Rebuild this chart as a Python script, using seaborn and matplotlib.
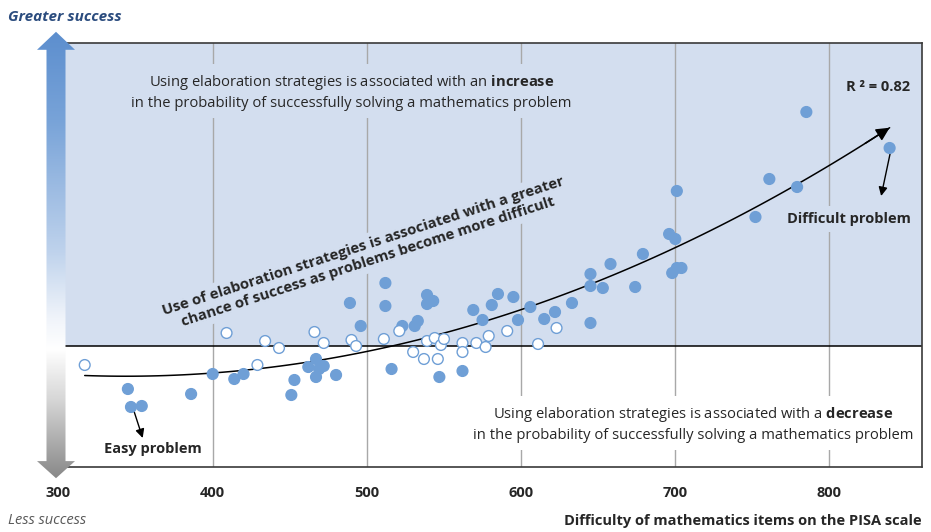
import numpy as np
import pandas as pd
import matplotlib.pyplot as plt
import seaborn as sns
from matplotlib.patches import Polygon

# Items: difficulty on the PISA scale, effect of elaboration strategies
sig_x = [345, 347, 354, 386, 400, 414, 420, 451, 453, 462, 467, 467, 469, 472, 480,
         489, 496, 512, 512, 516, 523, 531, 533, 539, 539, 543, 547, 562, 569, 575,
         581, 585, 595, 598, 606, 615, 622, 633, 645, 645, 645, 653, 658, 674, 679,
         696, 698, 700, 701, 704, 701, 752, 761, 779, 785, 839]
sig_y = [-0.43, -0.61, -0.60, -0.48, -0.28, -0.33, -0.28, -0.49, -0.34, -0.21, -0.13, -0.31, -0.23, -0.20, -0.29,
         0.43, 0.20, 0.63, 0.40, -0.23, 0.20, 0.20, 0.25, 0.51, 0.42, 0.45, -0.31, -0.25, 0.36, 0.26,
         0.41, 0.52, 0.49, 0.26, 0.39, 0.27, 0.34, 0.43, 0.72, 0.60, 0.23, 0.58, 0.82, 0.59, 0.92,
         1.12, 0.73, 1.07, 0.78, 0.78, 1.55, 1.29, 1.67, 1.59, 2.34, 1.98]
ns_x = [317, 409, 429, 434, 443, 466, 472, 490, 493, 511, 521, 530, 537, 539, 544,
        546, 548, 550, 562, 562, 571, 577, 579, 591, 611, 623]
ns_y = [-0.19, 0.13, -0.19, 0.05, -0.02, 0.14, 0.03, 0.06, 0.00, 0.07, 0.15, -0.06, -0.13, 0.05, 0.08,
        -0.13, 0.01, 0.07, 0.03, -0.06, 0.03, -0.01, 0.10, 0.15, 0.02, 0.18]

ticks = [300, 400, 500, 600, 700, 800]
tick_labels = ["300", "400", "500", "600", "700", "800"]

df = pd.DataFrame({
    "difficulty": sig_x + ns_x,
    "effect": sig_y + ns_y,
    "group": ["sig"] * len(sig_x) + ["ns"] * len(ns_x),
})

BLUE = "#6F9FD6"
BG = "#D3DEEF"

sns.set_style("white")
plt.rcParams['font.family'] = ['Open Sans', 'DejaVu Sans']
plt.rcParams['mathtext.fontset'] = 'custom'
plt.rcParams['mathtext.rm'] = 'Open Sans'
plt.rcParams['mathtext.bf'] = 'Open Sans:bold'

W, H = 931, 532
fig = plt.figure(figsize=(9.31, 5.32), dpi=100)
ax = fig.add_axes([58.5 / W, 1 - 467 / H, (922 - 58.5) / W, (467 - 43) / H])
ax.set_xlim(300, 860)
ax.set_ylim(-1.21, 3.03)

# background halves, grid and zero line
ax.axhspan(0, 3.03, color=BG, lw=0, zorder=0)
for t in ticks[1:]:
    ax.axvline(t, color="#A8A8A8", lw=1, zorder=1)
ax.axhline(0, color="black", lw=1.1, zorder=2)

# quadratic trend + points
sns.regplot(data=df, x="difficulty", y="effect", order=2, ci=None, scatter=False,
            line_kws=dict(color="black", lw=1.1, zorder=3), ax=ax)
sns.scatterplot(data=df, x="difficulty", y="effect", hue="group",
                palette={"sig": BLUE, "ns": "white"}, edgecolor=BLUE, linewidth=1,
                s=60, legend=False, ax=ax, zorder=4)

# arrow head at end of the trend curve
xs, ys = ax.lines[-1].get_data()
ax.annotate("", xy=(xs[-1], ys[-1]), xytext=(xs[-4], ys[-4]),
            arrowprops=dict(arrowstyle="-|>", color="black", lw=1.1,
                            mutation_scale=20, shrinkA=0, shrinkB=0), zorder=5)

# texts
ax.text(490, 2.54,
        "Using elaboration strategies is associated with an $\\bf{increase}$\n"
        "in the probability of successfully solving a mathematics problem",
        ha="center", va="center", fontsize=10.6, linespacing=1.35, zorder=2.5,
        bbox=dict(boxstyle="square,pad=0.5", fc=BG, ec="none"))
ax.text(711.6, -0.78,
        "Using elaboration strategies is associated with a $\\bf{decrease}$\n"
        "in the probability of successfully solving a mathematics problem",
        ha="center", va="center", fontsize=10.6, linespacing=1.35, zorder=2.5,
        bbox=dict(boxstyle="square,pad=0.5", fc="white", ec="none"))
ax.text(499, 0.92,
        "Use of elaboration strategies is associated with a greater\n"
        "chance of success as problems become more difficult",
        ha="center", va="center", rotation=18, rotation_mode="anchor",
        fontsize=10.7, fontweight="bold", linespacing=1.2, zorder=2.5,
        bbox=dict(boxstyle="square,pad=0.3", fc=BG, ec="none"))
ax.text(852.4, 2.59, "R ² = 0.82", ha="right", va="center",
        fontsize=10.5, fontweight="bold")

ax.text(812.5, 1.27, "Difficult problem", ha="center", va="center", fontsize=10.5,
        fontweight="bold", zorder=2.5, bbox=dict(boxstyle="square,pad=0.4", fc=BG, ec="none"))
ax.annotate("", xy=(833.5, 1.50), xytext=(839.4, 1.93),
            arrowprops=dict(arrowstyle="-|>", color="black", lw=1,
                            mutation_scale=13, shrinkA=0, shrinkB=0))
ax.text(361.3, -1.03, "Easy problem", ha="center", va="center", fontsize=10.5,
        fontweight="bold", zorder=2.5)
ax.annotate("", xy=(354.6, -0.92), xytext=(348.5, -0.63),
            arrowprops=dict(arrowstyle="-|>", color="black", lw=1,
                            mutation_scale=13, shrinkA=0, shrinkB=0))

# axes styling
for side in ["top", "right", "bottom"]:
    ax.spines[side].set_color("#3A3A3A")
    ax.spines[side].set_linewidth(1.2)
ax.spines["left"].set_visible(False)
ax.set_xticks(ticks)
ax.set_xticklabels(tick_labels, fontweight="bold", fontsize=10.5)
ax.set_yticks([])
ax.tick_params(axis="x", length=0, pad=14)
ax.set_ylabel("")
ax.set_xlabel("Difficulty of mathematics items on the PISA scale", loc="right",
              fontweight="bold", fontsize=10.5, labelpad=10)

# gradient double arrow on the left
aax = fig.add_axes([36 / W, 1 - 480 / H, 40 / W, 450 / H])
aax.set_xlim(0, 1)
aax.set_ylim(0, 1)
aax.axis("off")
stops = [0.0, 0.2, 0.49, 0.64, 0.71, 0.82, 1.0]
cols = np.array([(92, 142, 206), (120, 163, 216), (190, 210, 236), (240, 244, 250),
                 (255, 255, 255), (215, 215, 215), (135, 135, 135)]) / 255
tt = np.linspace(0, 1, 400)
grad = np.stack([np.interp(tt, stops, cols[:, i]) for i in range(3)], axis=1)[:, None, :]
im = aax.imshow(grad, extent=[0, 1, 0, 1], aspect="auto", origin="upper")
shape = Polygon([(0.5, 0.996), (0.975, 0.956), (0.7375, 0.956), (0.7375, 0.042),
                 (0.975, 0.042), (0.5, 0.004), (0.025, 0.042), (0.2625, 0.042),
                 (0.2625, 0.956), (0.025, 0.956)], closed=True, transform=aax.transData)
im.set_clip_path(shape)

fig.text(8 / W, 1 - 17 / H, "Greater success", ha="left", va="center", fontsize=11,
         fontweight="bold", style="italic", color="#2B4C7E")
fig.text(8 / W, 1 - 521 / H, "Less success", ha="left", va="center", fontsize=10.5,
         style="italic", color="#595959")

fig.savefig("out.png", dpi=100)
